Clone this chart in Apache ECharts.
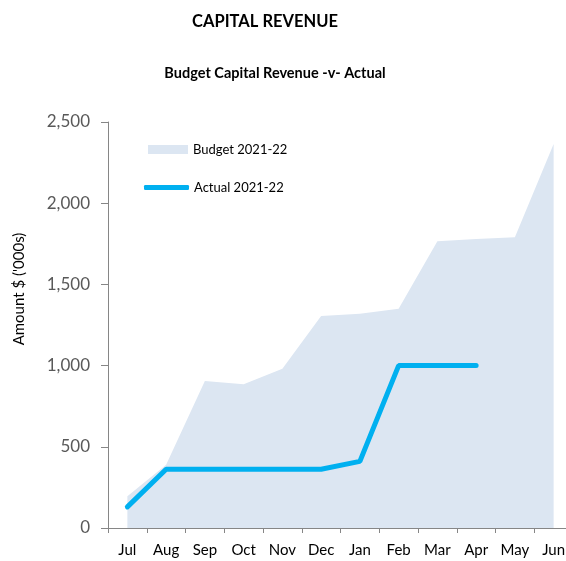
<!DOCTYPE html>
<html>
<head>
<meta charset="utf-8">
<script src="https://cdn.jsdelivr.net/npm/echarts@6/dist/echarts.min.js"></script>
<style>
  html, body { margin: 0; padding: 0; background: #fff; }
  #chart { width: 566px; height: 561px; }
</style>
</head>
<body>
<div id="chart"></div>
<script>
var months = ['Jul', 'Aug', 'Sep', 'Oct', 'Nov', 'Dec', 'Jan', 'Feb', 'Mar', 'Apr', 'May', 'Jun'];
var budget = [195, 390, 905, 885, 980, 1305, 1320, 1350, 1765, 1780, 1790, 2365];
var actual = [130, 362, 362, 362, 362, 362, 410, 1000, 1000, 1000];
var yTicks = [0, 500, 1000, 1500, 2000, 2500];

var chart = echarts.init(document.getElementById('chart'));

var font = 'Lato';

var option = {
    title: [
        {
            text: 'CAPITAL REVENUE',
            left: 260, top: 8, textAlign: 'center',
            textStyle: { fontFamily: font, fontSize: 16.5, fontWeight: 'bold', color: '#000' }
        },
        {
            text: 'Budget Capital Revenue -v- Actual',
            left: 270, top: 61, textAlign: 'center',
            textStyle: { fontFamily: font, fontSize: 14.5, fontWeight: 'bold', color: '#000' }
        }
    ],
    // 两个图例分开放，图标形状不同
    legend: [
        {
            data: [{ name: 'Budget 2021-22', icon: 'rect' }],
            left: 148, top: 143, padding: 0,
            itemWidth: 40, itemHeight: 9,
            textStyle: { fontFamily: font, fontSize: 13, color: '#000' }
        },
        {
            data: [{ name: 'Actual 2021-22', icon: 'roundRect' }],
            left: 144, top: 181, padding: 0,
            itemWidth: 45, itemHeight: 5,
            textStyle: { fontFamily: font, fontSize: 13, color: '#000' }
        }
    ],
    graphic: [
        {
            type: 'text',
            x: 19, y: 289,
            rotation: Math.PI / 2,
            style: {
                text: "Amount $ ('000s)",
                fontFamily: font, fontSize: 15, fill: '#000',
                align: 'center', verticalAlign: 'middle'
            }
        }
    ],
    grid: { left: 108, top: 122, width: 465, height: 406, containLabel: false, outerBoundsMode: 'none' },
    xAxis: {
        type: 'category',
        data: months,
        boundaryGap: true,
        axisLine: { lineStyle: { color: '#868686', width: 1 } },
        axisTick: { show: true, length: 5, lineStyle: { color: '#868686' } },
        axisLabel: { margin: 15, fontFamily: font, fontSize: 15, color: '#000' }
    },
    yAxis: {
        type: 'value',
        min: yTicks[0], max: yTicks[yTicks.length - 1], interval: 500,
        axisLine: { show: true, lineStyle: { color: '#868686', width: 1 } },
        axisTick: { show: true, length: 7, lineStyle: { color: '#868686' } },
        splitLine: { show: false },
        axisLabel: {
            margin: 18, fontFamily: font, fontSize: 17, color: '#595959',
            formatter: function (v) { return v.toLocaleString('en-US'); }
        }
    },
    series: [
        {
            name: 'Budget 2021-22',
            type: 'line',
            data: budget,
            showSymbol: false,
            lineStyle: { width: 0 },
            itemStyle: { color: '#dce6f2' },
            areaStyle: { color: '#dce6f2', opacity: 1 },
            z: 1
        },
        {
            name: 'Actual 2021-22',
            type: 'line',
            data: actual,
            showSymbol: false,
            lineStyle: { width: 5, color: '#00b0f0', cap: 'round' },
            itemStyle: { color: '#00b0f0' },
            z: 2
        }
    ]
};

chart.setOption(option);
</script>
</body>
</html>
